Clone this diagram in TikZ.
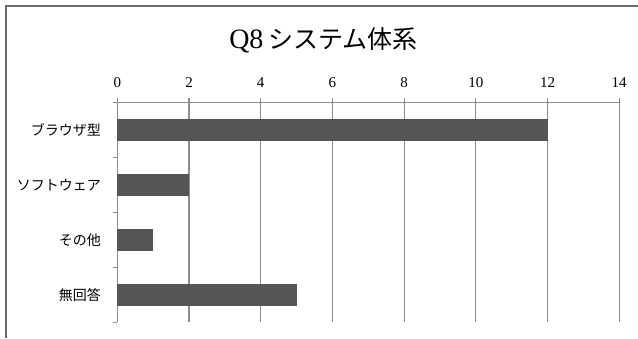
\documentclass[tikz,border=0pt]{standalone}
\usepackage{fontspec}
\setmainfont{Liberation Serif}
\newfontfamily\cjk{Noto Sans CJK JP}
\definecolor{framec}{HTML}{6A6A6A}
\definecolor{gridc}{HTML}{8C8C8C}
\definecolor{barc}{HTML}{555555}
\tikzset{
  gridline/.style={draw=gridc, line width=1.1pt},
  catlabel/.style={anchor=east, inner sep=0pt, font=\cjk\fontsize{14}{16}\selectfont},
  numlabel/.style={anchor=center, inner sep=0pt, font=\fontsize{15}{17}\selectfont},
}
\begin{document}
\begin{tikzpicture}[x=1pt, y=-1pt]
\useasboundingbox (0,0) rectangle (638,338);
% frame
\draw[framec, line width=2.2pt] (6,338) -- (6,6) -- (638,6);
% title
\node[inner sep=0pt, anchor=center] (title) at (323.5,40)
  {{\fontsize{28}{30}\selectfont Q8}\hspace{5pt}{\cjk\fontsize{25}{28}\selectfont システム体系}};
% grid and axis
\foreach \i/\v in {0/0,1/2,2/4,3/6,4/8,5/10,6/12,7/14}{
  \pgfmathsetmacro{\xx}{117.3+\i*71.7}
  \draw[gridline] (\xx,97.5) -- (\xx,322);
  \node[numlabel] (n\i) at (\xx,83) {\v};
}
\draw[gridline] (117.3,102.5) -- (619.2,102.5);
\foreach \k in {0,1,2,3,4}{
  \pgfmathsetmacro{\yy}{102.5+\k*55}
  \draw[gridline] (113,\yy) -- (117.3,\yy);
}
% bars
\foreach \k/\v/\t in {0/12/ブラウザ型,1/2/ソフトウェア,2/1/その他,3/5/無回答}{
  \pgfmathsetmacro{\yc}{130+\k*55}
  \pgfmathsetmacro{\xe}{117.3+\v*35.85}
  \fill[barc] (117.3,\yc-11) rectangle (\xe,\yc+11);
  \node[catlabel] (c\k) at (101,\yc) {\t};
}
\end{tikzpicture}
\end{document}
